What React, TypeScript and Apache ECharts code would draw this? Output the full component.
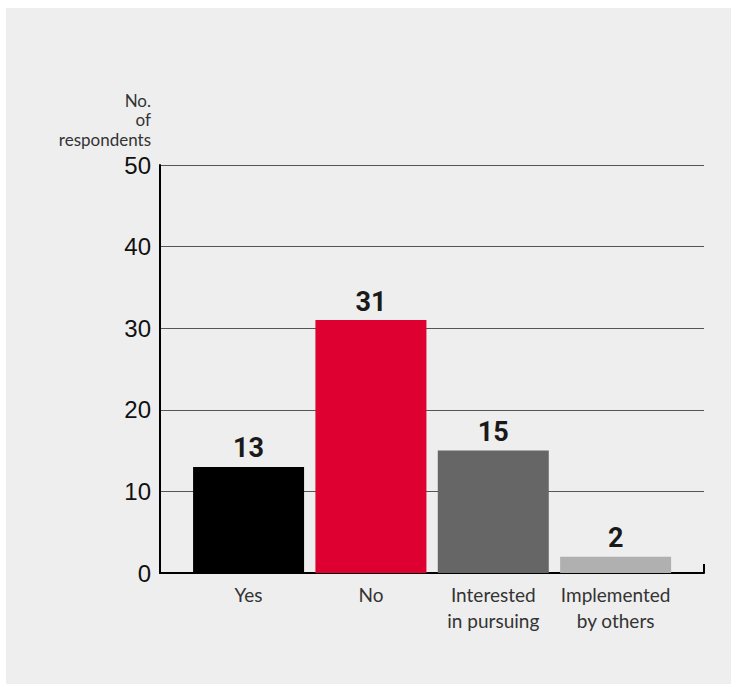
import React, { useEffect, useRef } from "react";
import * as echarts from "echarts";

const categories = ["Yes", "No", "Interested\nin pursuing", "Implemented\nby others"];
const respondents = [13, 31, 15, 2];
const barColors = ["#000000", "#de0030", "#666666", "#b0b0b0"];
const yTicks = { min: 0, max: 50, interval: 10 };
const yAxisName = "No.\nof\nrespondents";

export default function App() {
  const ref = useRef<HTMLDivElement>(null);
  useEffect(() => {
    if (!ref.current) return;
    const chart = echarts.init(ref.current, null, { renderer: "svg" });
    const labelFont = "Lato, 'Open Sans', sans-serif";
    chart.setOption({
      animation: false,
      backgroundColor: "#eeeeee",
      grid: [
        { left: 154, right: 27, top: 157, bottom: 111 },
        { left: 181.4, right: 54.2, top: 157, bottom: 111 },
      ],
      xAxis: [
        {
          gridIndex: 0,
          type: "value",
          min: 0,
          max: 1,
          interval: 1,
          axisLine: { show: true, lineStyle: { color: "#000", width: 2 } },
          axisTick: { show: true, inside: true, length: 9, lineStyle: { color: "#000", width: 2 } },
          axisLabel: { show: false },
          splitLine: { show: false },
        },
        {
          gridIndex: 1,
          type: "category",
          data: categories,
          axisLine: { show: false },
          axisTick: { show: false },
          axisLabel: {
            interval: 0,
            color: "#333",
            fontSize: 19,
            fontFamily: labelFont,
            lineHeight: 26,
            margin: 8,
          },
        },
      ],
      yAxis: [
        {
          gridIndex: 0,
          type: "value",
          min: yTicks.min,
          max: yTicks.max,
          interval: yTicks.interval,
          name: yAxisName,
          nameLocation: "end",
          nameGap: 16,
          nameTextStyle: {
            align: "right",
            verticalAlign: "bottom",
            color: "#333",
            fontSize: 17,
            fontFamily: labelFont,
            lineHeight: 19.5,
            padding: [0, 9, 0, 0],
          },
          axisLine: { show: true, lineStyle: { color: "#000", width: 2 } },
          axisTick: { show: false },
          axisLabel: {
            color: "#111",
            fontSize: 24,
            fontFamily: "'Liberation Sans', Arial, sans-serif",
            margin: 9,
          },
          splitLine: { show: true, lineStyle: { color: "#555", width: 1 } },
        },
        {
          gridIndex: 1,
          type: "value",
          min: yTicks.min,
          max: yTicks.max,
          interval: yTicks.interval,
          show: false,
        },
      ],
      series: [
        {
          type: "bar",
          xAxisIndex: 1,
          yAxisIndex: 1,
          barWidth: 111,
          data: respondents.map((v, i) => ({ value: v, itemStyle: { color: barColors[i] } })),
          label: {
            show: true,
            position: "top",
            distance: 5,
            color: "#1a1a1a",
            fontSize: 27,
            fontWeight: "bold",
            fontFamily: "Roboto, sans-serif",
          },
        },
      ],
    });
    return () => chart.dispose();
  }, []);
  return (
    <div style={{ position: "fixed", left: 6, top: 8, width: 725, height: 676 }}>
      <div ref={ref} style={{ width: 725, height: 676 }} />
    </div>
  );
}
